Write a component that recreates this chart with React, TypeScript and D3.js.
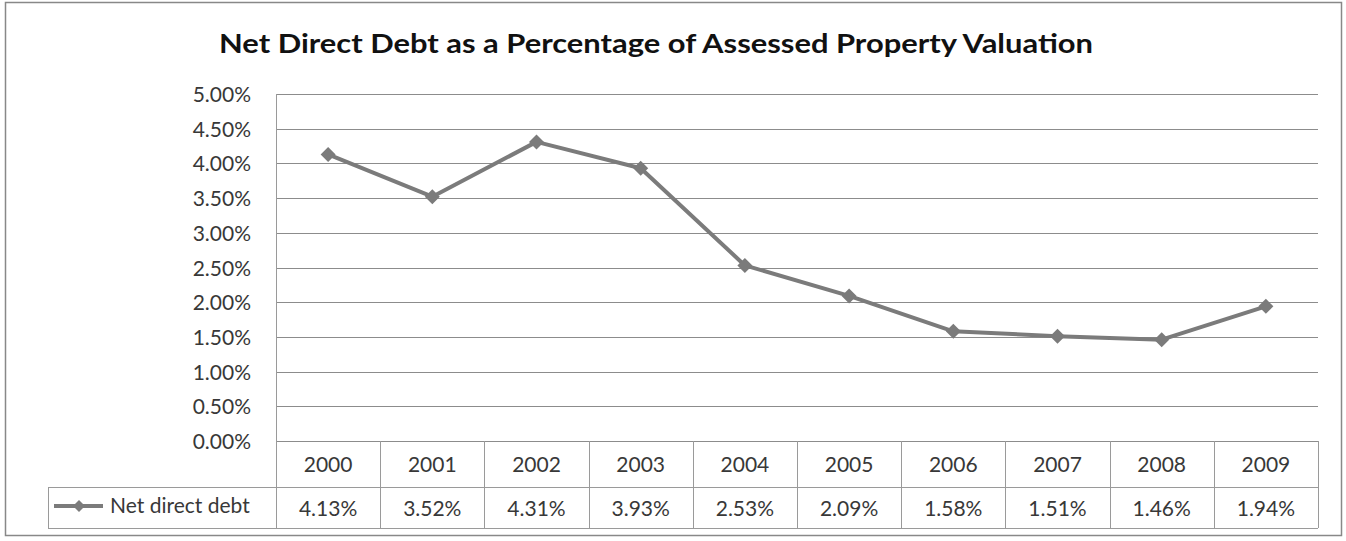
import React from "react";
import * as d3 from "d3";

const title = "Net Direct Debt as a Percentage of Assessed Property Valuation";
const years = ["2000", "2001", "2002", "2003", "2004", "2005", "2006", "2007", "2008", "2009"];
const values = [4.13, 3.52, 4.31, 3.93, 2.53, 2.09, 1.58, 1.51, 1.46, 1.94];
const seriesName = "Net direct debt";
const yTicks = [0, 0.5, 1, 1.5, 2, 2.5, 3, 3.5, 4, 4.5, 5];

const W = 1346;
const H = 541;
const font = "Lato, 'Open Sans', sans-serif";

export default function App() {
  const left = 276;
  const right = 1318;
  const top = 94;
  const bottom = 441;
  const headerBottom = 487;
  const rowBottom = 528;
  const legendLeft = 48;

  const x = d3.scaleBand<string>().domain(years).range([left, right]).padding(0);
  const y = d3.scaleLinear().domain([0, 5]).range([bottom, top]);
  const line = d3
    .line<number>()
    .x((_, i) => (x(years[i]) as number) + x.bandwidth() / 2)
    .y((d) => y(d));

  const lineColor = "#7b7b7b";
  const gridColor = "#8c8c8c";
  const tableColor = "#9a9a9a";
  const textColor = "#383838";
  const fs = 21;

  const diamond = (cx: number, cy: number, r: number) =>
    `M${cx},${cy - r}L${cx + r},${cy}L${cx},${cy + r}L${cx - r},${cy}Z`;

  return (
    <svg width={W} height={H} style={{ position: "absolute", left: 0, top: 0, background: "#fff" }}>
      <rect x={5.5} y={2.5} width={1336} height={533} fill="#fff" stroke="#888" strokeWidth={1.5} />
      <text
        x={656}
        y={53}
        textAnchor="middle"
        fontFamily={font}
        fontWeight="bold"
        fontSize={26}
        fill="#111"
        textLength={874}
        lengthAdjust="spacingAndGlyphs"
      >
        {title}
      </text>

      {/* gridlines */}
      {yTicks.map((t) => (
        <line key={"g" + t} x1={left} x2={right} y1={Math.round(y(t)) + 0.5} y2={Math.round(y(t)) + 0.5} stroke={gridColor} strokeWidth={1} />
      ))}
      <line x1={left + 0.5} x2={left + 0.5} y1={top} y2={rowBottom} stroke={tableColor} strokeWidth={1} />

      {/* y tick labels */}
      {yTicks.map((t) => (
        <text
          key={"t" + t}
          x={251}
          y={y(t) + 8}
          textAnchor="end"
          fontFamily={font}
          fontSize={fs}
          fill={textColor}
        >
          {t.toFixed(2) + "%"}
        </text>
      ))}

      {/* data table */}
      <line x1={left} x2={right} y1={headerBottom + 0.5} y2={headerBottom + 0.5} stroke={tableColor} />
      <line x1={legendLeft} x2={left} y1={headerBottom + 0.5} y2={headerBottom + 0.5} stroke={tableColor} />
      <line x1={legendLeft} x2={right} y1={rowBottom + 0.5} y2={rowBottom + 0.5} stroke={tableColor} />
      <line x1={legendLeft + 0.5} x2={legendLeft + 0.5} y1={headerBottom} y2={rowBottom} stroke={tableColor} />
      {years.map((yr) => (
        <line
          key={"v" + yr}
          x1={Math.round((x(yr) as number) + x.bandwidth()) + 0.5}
          x2={Math.round((x(yr) as number) + x.bandwidth()) + 0.5}
          y1={bottom}
          y2={rowBottom}
          stroke={tableColor}
        />
      ))}
      {years.map((yr, i) => (
        <g key={"c" + yr}>
          <text
            x={(x(yr) as number) + x.bandwidth() / 2}
            y={472}
            textAnchor="middle"
            fontFamily={font}
            fontSize={fs}
            fill={textColor}
          >
            {yr}
          </text>
          <text
            x={(x(yr) as number) + x.bandwidth() / 2}
            y={516}
            textAnchor="middle"
            fontFamily={font}
            fontSize={fs}
            fill={textColor}
          >
            {values[i].toFixed(2) + "%"}
          </text>
        </g>
      ))}

      {/* legend key */}
      <line x1={54} x2={103} y1={506} y2={506} stroke={lineColor} strokeWidth={4} />
      <path d={diamond(79, 506, 6)} fill={lineColor} />
      <text x={110} y={513} fontFamily={font} fontSize={fs} fill={textColor}>
        {seriesName}
      </text>

      {/* series */}
      <path d={line(values) || ""} fill="none" stroke={lineColor} strokeWidth={4} strokeLinejoin="round" />
      {values.map((v, i) => (
        <path
          key={"m" + i}
          d={diamond((x(years[i]) as number) + x.bandwidth() / 2, y(v), 7.5)}
          fill={lineColor}
        />
      ))}
    </svg>
  );
}
